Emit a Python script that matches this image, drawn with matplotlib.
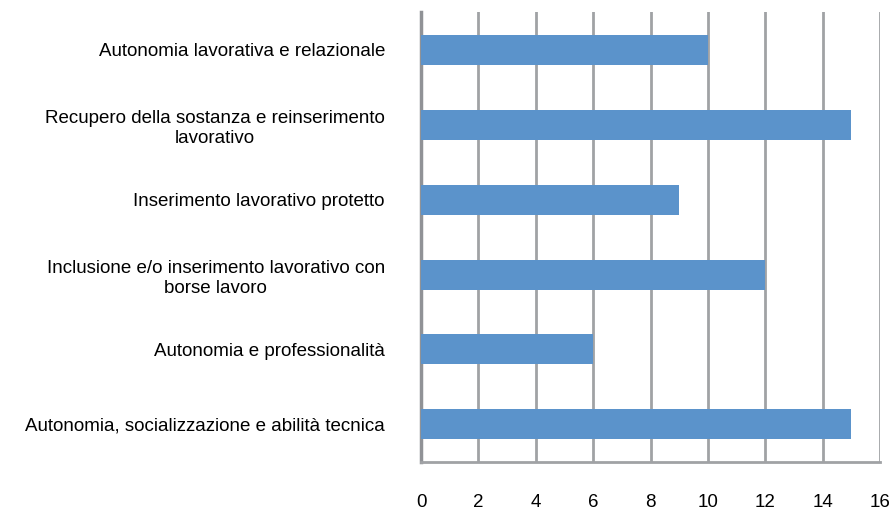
import matplotlib.pyplot as plt
from matplotlib import font_manager

categorie = [
    'Autonomia lavorativa e relazionale',
    'Recupero della sostanza e reinserimento\nlavorativo',
    'Inserimento lavorativo protetto',
    'Inclusione e/o inserimento lavorativo con\nborse lavoro',
    'Autonomia e professionalità',
    'Autonomia, socializzazione e abilità tecnica',
]
valori = [10, 15, 9, 12, 6, 15]
tick_x = [0, 2, 4, 6, 8, 10, 12, 14, 16]

nomi = {f.name for f in font_manager.fontManager.ttflist}
famiglia = ['Liberation Sans Narrow', 'DejaVu Sans'] if 'Liberation Sans Narrow' in nomi else ['Liberation Sans', 'DejaVu Sans']
plt.rcParams['font.family'] = famiglia

fig = plt.figure(figsize=(8.89, 5.11), dpi=100)
ax = fig.add_axes([0.4736, 0.0959, 0.9899 - 0.4736, 0.9765 - 0.0959])

pos = list(range(len(categorie)))
ax.barh(pos, valori, height=0.4, color='#5B93CB', zorder=3)
ax.set_ylim(len(categorie) - 0.5, -0.5)
ax.set_xlim(0, 16)
ax.set_xticks(tick_x)
ax.set_xticklabels([str(t) for t in tick_x], fontsize=13.5)
ax.set_yticks(pos)
ax.set_yticklabels(categorie, fontsize=13.5, multialignment='center', linespacing=1.3)

ax.grid(axis='x', color='#A0A2A5', linewidth=2, zorder=0)
ax.tick_params(axis='x', length=0, pad=23)
ax.tick_params(axis='y', length=0, pad=26)
for s in ['top', 'right']:
    ax.spines[s].set_visible(False)
ax.spines['left'].set_color('#909296')
ax.spines['left'].set_linewidth(2.5)
ax.spines['bottom'].set_color('#A0A2A5')
ax.spines['bottom'].set_linewidth(2)

fig.savefig('out.png', dpi=100)
